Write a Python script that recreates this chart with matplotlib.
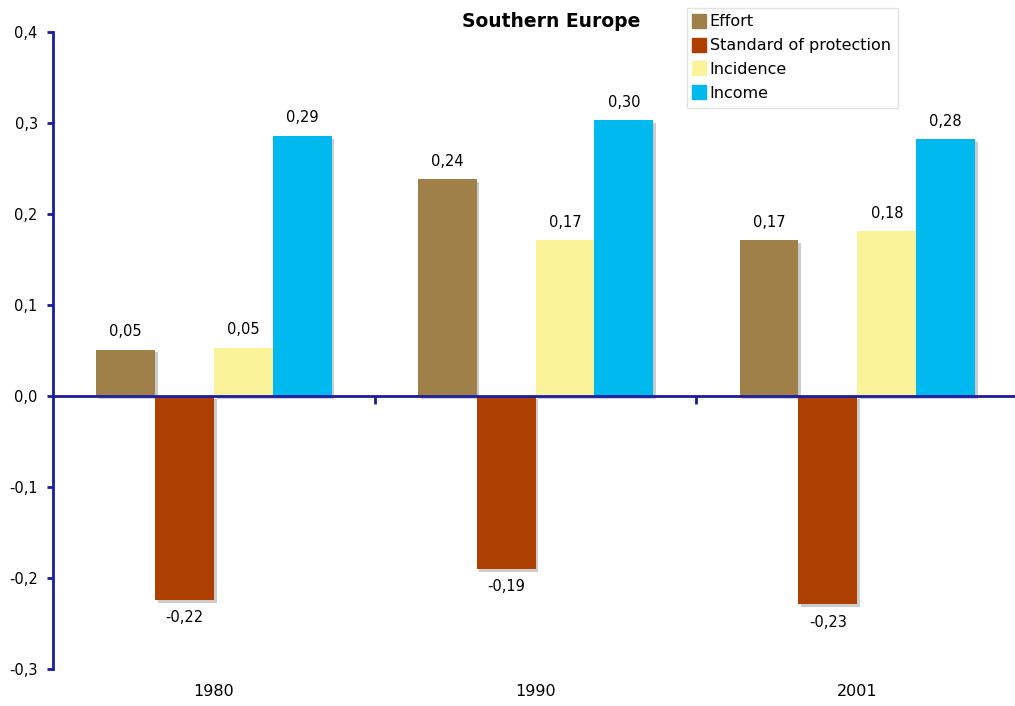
import matplotlib.pyplot as plt
import matplotlib.patheffects as pe
from matplotlib.lines import Line2D
import numpy as np

years = ["1980", "1990", "2001"]
series = ["Effort", "Standard of protection", "Incidence", "Income"]
effort = [0.051, 0.238, 0.171]
standard = [-0.224, -0.190, -0.229]
incidence = [0.053, 0.171, 0.181]
income = [0.286, 0.303, 0.282]
colors = ["#9E8048", "#AD3F00", "#FAF39A", "#00B9EE"]
axis_blue = "#1C1CA0"

fig = plt.figure(figsize=(10.15, 7.06), dpi=100)
ax = fig.add_axes([0.0522, 0.0524, 0.9478, 0.9023])

x = np.arange(len(years))
w = 0.183
shadow = [pe.SimplePatchShadow(offset=(2.0, -2.0), shadow_rgbFace="#cccccc", alpha=1), pe.Normal()]

for i, (name, vals) in enumerate(zip(series, [effort, standard, incidence, income])):
    pos = x + (i - 1.5) * w
    bars = ax.bar(pos, vals, width=w, color=colors[i], label=name, zorder=3)
    for b in bars:
        b.set_path_effects(shadow)
    for p, v in zip(pos, vals):
        txt = f"{v:.2f}".replace(".", ",")
        off = 13 if v >= 0 else -13
        ax.annotate(txt, (p, v), xytext=(0, off), textcoords="offset points",
                    ha="center", va="center", fontsize=10.5)

ax.set_xlim(-0.5, 2.49)
ax.set_ylim(-0.3, 0.4)

# axes styling
for s in ["top", "right"]:
    ax.spines[s].set_visible(False)
ax.spines["left"].set_color(axis_blue)
ax.spines["left"].set_linewidth(2)
ax.spines["bottom"].set_position(("data", 0))
ax.spines["bottom"].set_color(axis_blue)
ax.spines["bottom"].set_linewidth(2)
ax.spines["bottom"].set_zorder(4)

yt = np.arange(-0.3, 0.41, 0.1)
ax.set_yticks(yt)
ax.set_yticklabels([f"{t:.1f}".replace(".", ",").replace("-0,0", "0,0") for t in yt], fontsize=10.5)
ax.tick_params(axis="y", colors=axis_blue, length=4, width=2, direction="out", pad=7, labelcolor="black")

ax.set_xticks([0.5, 1.5])
ax.set_xticklabels([])
ax.tick_params(axis="x", colors=axis_blue, length=6, width=2, direction="out")

for xi, yr in zip(x, years):
    ax.text(xi, -0.035, yr, transform=ax.get_xaxis_transform(), ha="center", va="center", fontsize=11.5)

fig.text(0.543, 0.969, "Southern Europe", ha="center", va="center", fontsize=13.5, fontweight="bold")

handles = [Line2D([], [], marker="s", linestyle="none", markersize=9.5, markerfacecolor=c, markeredgecolor=c) for c in colors]
leg = fig.legend(handles, series, loc="upper left", bbox_to_anchor=(0.677, 0.989), fontsize=11.5,
                 frameon=True, fancybox=False, handlelength=0.7, handletextpad=0.3,
                 labelspacing=0.55, borderpad=0.42, borderaxespad=0)
leg.get_frame().set_edgecolor("#dddddd")
leg.get_frame().set_linewidth(1)

fig.savefig("out.png", dpi=100)
